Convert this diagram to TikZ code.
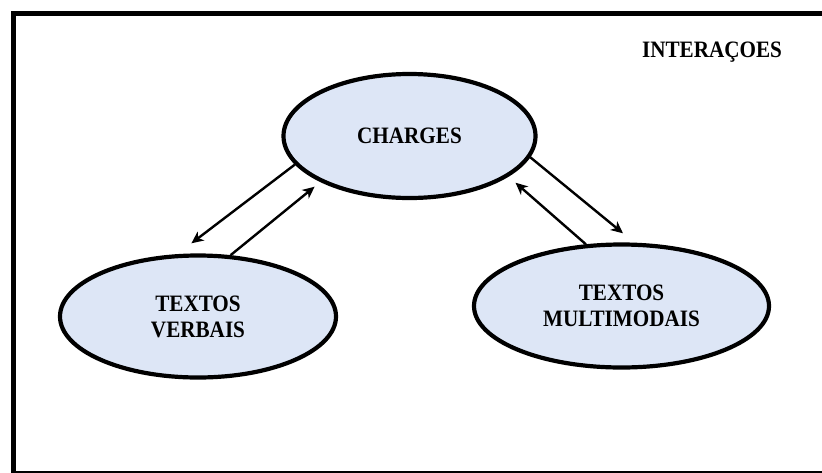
\documentclass[tikz,border=0pt]{standalone}
\usepackage{fontspec}
\setmainfont{Liberation Serif}[FakeStretch=0.9]
\usetikzlibrary{arrows.meta,shapes.geometric}
\definecolor{bubblecolor}{RGB}{221,230,246}

\begin{document}
\begin{tikzpicture}[x=1pt,y=-1pt,
    bubble/.style={ellipse,draw=black,line width=4.2pt,fill=bubblecolor,
        inner sep=0pt,align=center,font=\fontsize{23.5}{26}\selectfont\bfseries},
    link/.style={line width=2.4pt,-{Stealth[length=12pt,width=11pt,inset=3.5pt]}}]
    % Page and frame
    \useasboundingbox (0,0) rectangle (822,472);
    \clip (0,0) rectangle (822,472);
    \fill[white] (0,0) rectangle (822,472);
    \draw[line width=5.5pt] (13.5,13.5) rectangle (835,473.5);

    % Title
    \node[font=\fontsize{23.5}{26}\selectfont\bfseries] (title) at (712,52) {INTERAÇOES};

    % Ellipses
    \node[bubble,minimum width=252pt,minimum height=124pt] (charges) at (409.5,136) {CHARGES};
    \node[bubble,minimum width=276pt,minimum height=122pt] (verbais) at (198,316.5) {TEXTOS\\VERBAIS};
    \node[bubble,minimum width=295pt,minimum height=123pt] (multimodais) at (621.5,306) {TEXTOS\\MULTIMODAIS};

    % Free ends of the arrows
    \coordinate (verbaistip) at (191.4,243.3);
    \coordinate (chargestipl) at (314.6,186.7);
    \coordinate (multitip) at (623,233.3);
    \coordinate (chargestipr) at (515.5,182.7);

    % Arrows
    \draw[link] (charges.194) -- (verbaistip);
    \draw[link] (verbais.62) -- (chargestipl);
    \draw[link] (charges.-10) -- (multitip);
    \draw[link] (multimodais.120) -- (chargestipr);
\end{tikzpicture}
\end{document}
